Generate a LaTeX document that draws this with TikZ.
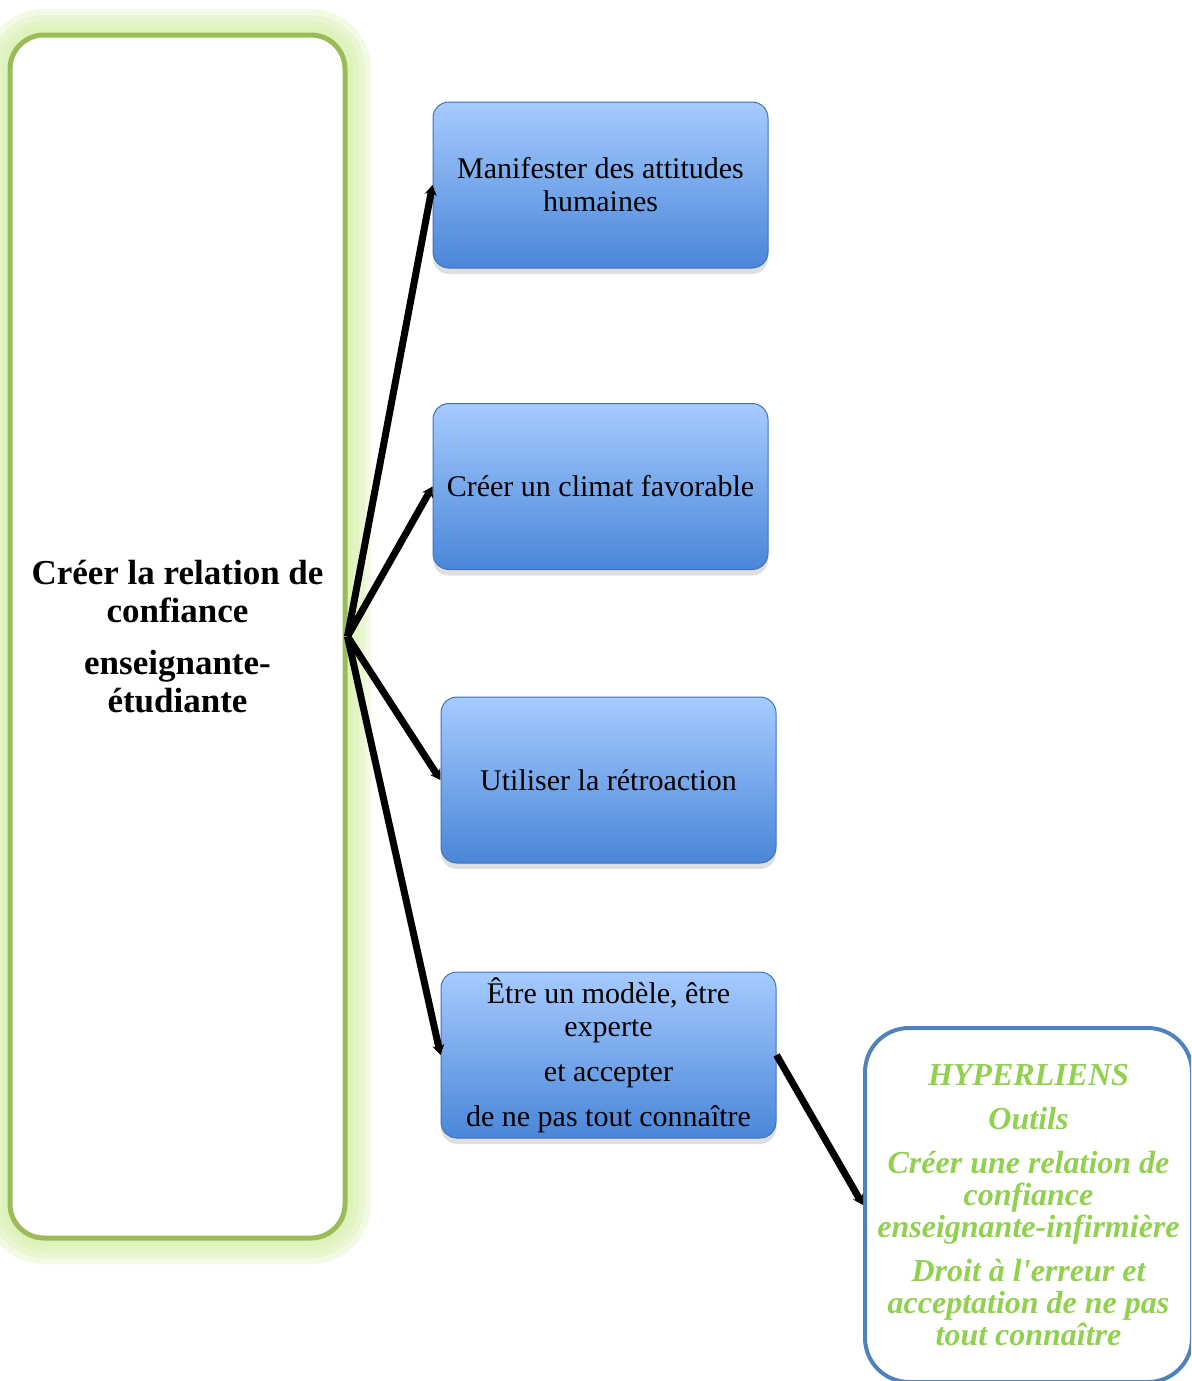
\documentclass[tikz,border=0pt]{standalone}
\usepackage{fontspec}
\setmainfont{Liberation Serif}
\usetikzlibrary{arrows.meta,shadows}
\definecolor{leafgreen}{HTML}{9BBB59}
\definecolor{glowgreen}{HTML}{D4EEA6}
\definecolor{linkgreen}{HTML}{92D050}
\definecolor{skytop}{HTML}{A6CBFF}
\definecolor{skybottom}{HTML}{4A86D8}
\definecolor{frameblue}{HTML}{4F81BD}
\tikzset{
    mainbox/.style={
        draw=leafgreen,
        line width=2.5pt,
        fill=white,
        rounded corners=17pt,
        minimum width=167.5pt,
        minimum height=601.5pt,
        align=center,
        font=\fontsize{17.5}{19}\selectfont\bfseries
    },
    stepbox/.style={
        draw=skybottom!85!black,
        line width=0.5pt,
        rounded corners=8pt,
        top color=skytop,
        bottom color=skybottom,
        minimum width=167.5pt,
        minimum height=83pt,
        align=center,
        inner sep=2pt,
        font=\fontsize{15}{16.5}\selectfont,
        drop shadow={opacity=0.25, shadow xshift=0pt, shadow yshift=-3pt}
    },
    linkbox/.style={
        draw=frameblue,
        line width=2pt,
        fill=white,
        rounded corners=22pt,
        minimum width=163.5pt,
        minimum height=177pt,
        align=center,
        inner sep=1pt,
        text=linkgreen,
        font=\fontsize{16}{16}\selectfont\bfseries\itshape
    },
    link/.style={
        -{Stealth[length=5pt, width=6pt]},
        line width=3.5pt
    }
}

\begin{document}
\begin{tikzpicture}[x=0.5pt, y=-0.5pt]
  \clip (0,0) rectangle (1191,1381);

  % Glow round the main box
  \foreach \w in {26,20,14,8}
    \draw[glowgreen, line width=\w pt, opacity=0.3, rounded corners=17pt]
      (10,35) rectangle (345,1238);

  % Main box
  \node[mainbox] (main) at (177.5,636.5)
    {Créer la relation de\\ confiance\\[7pt] enseignante-\\ étudiante};

  % Steps
  \node[stepbox] (manif) at (600.5,185) {Manifester des attitudes\\ humaines};
  \node[stepbox] (climat) at (600.5,486.5) {Créer un climat favorable};
  \node[stepbox] (retro) at (608.5,780) {Utiliser la rétroaction};
  \node[stepbox] (modele) at (608.5,1055)
    {Être un modèle, être\\ experte\\[6pt] et accepter\\[6pt] de ne pas tout connaître};

  % Hyperlinks
  \node[linkbox] (liens) at (1028.5,1205)
    {HYPERLIENS\\[6pt] Outils\\[6pt] Créer une relation de\\ confiance\\ enseignante-infirmière\\[6pt]
     Droit à l\textquotesingle erreur et\\ acceptation de ne pas\\ tout connaître};

  % Connectors
  \draw[link] (main.east) -- (manif.west);
  \draw[link] (main.east) -- (climat.west);
  \draw[link] (main.east) -- (retro.west);
  \draw[link] (main.east) -- (modele.west);
  \draw[link] (modele.east) -- (liens.west);
\end{tikzpicture}
\end{document}
